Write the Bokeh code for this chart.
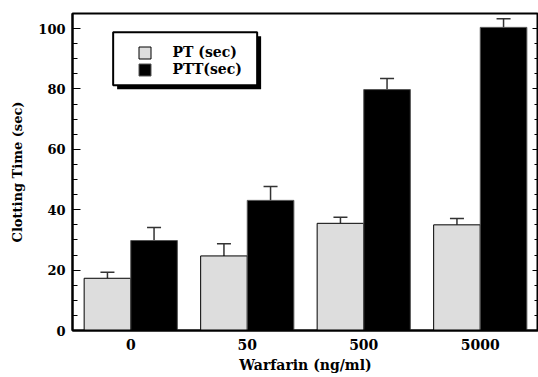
from bokeh.plotting import figure
from bokeh.models import (ColumnDataSource, FactorRange, Range1d, LinearAxis, SingleIntervalTicker,
                          Whisker, TeeHead, Legend, LegendItem, BoxAnnotation, CustomJSTickFormatter)
from bokeh.transform import dodge
from bokeh.embed import file_html
from bokeh.resources import INLINE

# ---- data ----
doses = ["0", "50", "500", "5000"]
pt_values = [17.3, 24.7, 35.5, 35.0]
pt_errors = [2.0, 4.0, 2.0, 2.1]
ptt_values = [29.8, 43.1, 79.8, 100.4]
ptt_errors = [4.3, 4.6, 3.7, 2.9]
series_names = ["PT (sec)", "PTT(sec)"]
y_ticks = [0, 20, 40, 60, 80, 100]

FONT = "DejaVu Serif"

src = ColumnDataSource(dict(
    dose=doses,
    pt=pt_values,
    ptt=ptt_values,
    pt_up=[v + e for v, e in zip(pt_values, pt_errors)],
    ptt_up=[v + e for v, e in zip(ptt_values, ptt_errors)],
))

p = figure(width=538, height=377, output_backend="svg", toolbar_location=None,
           x_range=FactorRange(*doses, range_padding=0),
           y_range=Range1d(0, 105),
           min_border_left=72, min_border_right=0, min_border_top=13, min_border_bottom=47)

p.background_fill_color = "white"
p.border_fill_color = "white"
p.outline_line_color = "black"
p.outline_line_width = 2
p.xgrid.visible = False
p.ygrid.visible = False

r_pt = p.vbar(x=dodge("dose", -0.2, range=p.x_range), top="pt", width=0.4, source=src,
              fill_color="#dddddd", line_color="black", line_width=1)
r_ptt = p.vbar(x=dodge("dose", 0.2, range=p.x_range), top="ptt", width=0.4, source=src,
               fill_color="black", line_color="#555555", line_width=1)

for off, up, base in [(-0.2, "pt_up", "pt"), (0.2, "ptt_up", "ptt")]:
    w = Whisker(base=dodge("dose", off, range=p.x_range), upper=up, lower=base, source=src,
                dimension="height", line_color="#333333", line_width=1.5,
                upper_head=TeeHead(size=14, line_color="#333333", line_width=1.5),
                lower_head=None, level="underlay")
    p.add_layout(w)

# y axis (left)
yax = p.yaxis[0]
yax.ticker = SingleIntervalTicker(interval=20, num_minor_ticks=4)
yax.axis_label = "Clotting Time (sec)"
yax.axis_label_text_font = FONT
yax.axis_label_text_font_style = "bold"
yax.axis_label_text_font_size = "13px"
yax.axis_label_text_color = "black"
yax.axis_label_standoff = 10
yax.major_label_text_font = FONT
yax.major_label_text_font_style = "bold"
yax.major_label_text_font_size = "13px"
yax.major_label_text_color = "black"
yax.major_label_standoff = 7
yax.major_tick_in = 8
yax.major_tick_out = 0
yax.minor_tick_in = 5
yax.minor_tick_out = 0
yax.axis_line_width = 2
yax.major_tick_line_width = 1
yax.minor_tick_line_width = 1

# right axis: ticks only, empty labels
rax = LinearAxis(ticker=SingleIntervalTicker(interval=20, num_minor_ticks=4),
                 formatter=CustomJSTickFormatter(code="return ''"))
rax.major_label_text_font_size = "1px"
rax.major_label_standoff = 0
rax.major_tick_in = 6
rax.major_tick_out = 0
rax.minor_tick_in = 4
rax.minor_tick_out = 0
rax.axis_line_width = 2
p.add_layout(rax, "right")

# x axis
xax = p.xaxis[0]
xax.axis_label = "Warfarin (ng/ml)"
xax.axis_label_text_font = FONT
xax.axis_label_text_font_style = "bold"
xax.axis_label_text_font_size = "14px"
xax.axis_label_text_color = "black"
xax.axis_label_standoff = 4
xax.major_label_text_font = FONT
xax.major_label_text_font_style = "bold"
xax.major_label_text_font_size = "14px"
xax.major_label_text_color = "black"
xax.major_label_standoff = 8
xax.major_tick_in = 0
xax.major_tick_out = 0
xax.minor_tick_line_color = None
xax.axis_line_width = 2

# legend box with drop shadow
shadow = BoxAnnotation(left=0.383, right=1.619, bottom=79.9, top=97.5,
                       fill_color="black", fill_alpha=1, line_color=None)
box = BoxAnnotation(left=0.349, right=1.585, bottom=81.2, top=98.8,
                    fill_color="white", fill_alpha=1, line_color="black", line_width=2,
                    line_alpha=1)
p.add_layout(shadow)
p.add_layout(box)

legend = Legend(items=[LegendItem(label=series_names[0], renderers=[r_pt]),
                       LegendItem(label=series_names[1], renderers=[r_ptt])],
                location=(64.5, 252.5), orientation="vertical",
                background_fill_alpha=0, border_line_color=None,
                padding=0, margin=0, spacing=0,
                glyph_width=15, glyph_height=15, label_height=17,
                label_standoff=21,
                label_text_font=FONT, label_text_font_style="bold",
                label_text_font_size="14px", label_text_color="black")
p.add_layout(legend, "center")

open("out.html", "w").write(file_html(p, INLINE))
